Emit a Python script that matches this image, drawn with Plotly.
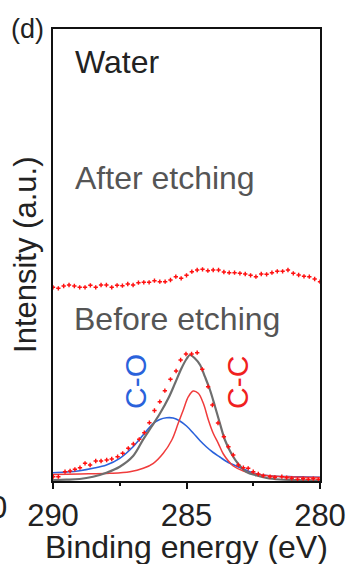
import plotly.graph_objects as go

# ---------------- data ----------------
# After etching: measured points, 0.2 eV step from 290 to 280 eV
after_E = [round(290 - 0.2 * i, 1) for i in range(51)]
after_I = [193.7, 192.7, 195, 196, 195, 193.7, 193.7, 195.7, 193.7, 196,
           196, 193.7, 195.7, 195.3, 197, 196, 198.3, 198.7, 198.7, 200.3,
           199.3, 199.3, 201, 204.3, 202.7, 205.7, 209.3, 211, 211.7, 210.3,
           211, 211, 209, 208.3, 208.3, 207.7, 207, 205.7, 204.3, 207,
           206.7, 208.3, 209.7, 209.7, 211, 207.7, 206, 204.7, 204.3, 202,
           199.3]

# Before etching: measured points
before_E = [289.99, 289.80, 289.55, 289.36, 289.18, 288.99, 288.80, 288.61, 288.40, 288.20,
            287.99, 287.80, 287.58, 287.39, 287.18, 286.99, 286.77, 286.58, 286.39, 286.20,
            286.00, 285.81, 285.60, 285.39, 285.22, 285.02, 284.81, 284.60, 284.41, 284.19,
            284.03, 283.82, 283.60, 283.43, 283.25, 283.06, 282.87, 282.69, 282.50, 282.31,
            282.12, 281.87, 281.69, 281.43, 281.25, 281.06, 280.84, 280.63, 280.44, 280.25,
            280.06]
before_I = [4.3, 4.3, 9.3, 10, 11.7, 13.3, 17.7, 16, 20, 20,
            21, 22, 24.3, 27.7, 32.7, 37, 41.7, 48.3, 58.3, 70.5,
            79.3, 90.3, 101.7, 110, 121, 127, 127, 128.3, 111.7, 94.3,
            76, 58, 44.3, 34.3, 26, 16, 13.3, 12.7, 9.3, 7,
            5.3, 4.3, 3.7, 4.3, 3.3, 2.7, 1.7, 2.3, 1.7, 2.3,
            1.7]

# Fitted envelope (gray)
fit_E = [290.0, 289.5, 289.0, 288.5, 288.0, 287.5, 287.0, 286.62, 286.31, 285.99,
         285.68, 285.43, 285.2, 285.0, 284.87, 284.7, 284.49, 284.31, 284.12, 283.93,
         283.75, 283.56, 283.31, 283.06, 282.75, 282.37, 282.0, 281.5, 281.0, 280.5, 280.0]
fit_I = [1, 1.3, 2, 4.3, 8.3, 14.3, 25, 41.7, 54.3, 67.7,
         82.7, 97.7, 112, 122, 126, 123, 116, 104.3, 91, 74.3,
         57.7, 41, 27, 17, 9, 5.5, 3, 1.5, 1, 0.7, 0.5]

# C-C component (red line)
cc_E = [290.0, 288.99, 287.87, 287.12, 286.62, 286.24, 285.87, 285.55, 285.31, 285.12,
        284.93, 284.75, 284.56, 284.37, 284.18, 284.0, 283.81, 283.62, 283.43, 283.25,
        282.87, 282.5, 282.0, 281.5, 281.0, 280.0]
cc_I = [6.5, 7, 7.7, 9.3, 12.7, 17.7, 27.7, 41, 57.7, 71,
        84.3, 90, 87.7, 77.7, 61, 47.7, 37.7, 27, 20, 15,
        10, 7.5, 5.5, 4.5, 4, 3.5]

# C-O component (blue line)
co_E = [290.0, 289.5, 289.0, 288.5, 288.0, 287.5, 287.0, 286.5, 286.25, 286.0,
        285.75, 285.5, 285.25, 285.0, 284.75, 284.5, 284.25, 284.0, 283.75, 283.5,
        283.0, 282.5, 282.0, 281.5, 281.0, 280.5, 280.0]
co_I = [8.3, 9, 10.3, 12.7, 16, 22.7, 34.3, 50, 57.5, 61.5,
        63.2, 63, 60, 55, 48, 40.5, 34, 28.5, 24, 19.5,
        13.5, 8, 5.5, 4.5, 4.3, 4, 3.7]

x_ticks = [290, 285, 280]
x_minor = [287.5, 282.5]

FONT = "Liberation Sans, Arial, sans-serif"

fig = go.Figure()
fig.add_trace(go.Scatter(x=co_E, y=co_I, mode="lines", line=dict(color="#2a62db", width=1.6, shape="spline"),
                         showlegend=False, hoverinfo="skip"))
fig.add_trace(go.Scatter(x=cc_E, y=cc_I, mode="lines", line=dict(color="#f03c3c", width=1.5, shape="spline"),
                         showlegend=False, hoverinfo="skip"))
fig.add_trace(go.Scatter(x=fit_E, y=fit_I, mode="lines", line=dict(color="#6e6e6e", width=2.2, shape="spline"),
                         showlegend=False, hoverinfo="skip"))
fig.add_trace(go.Scatter(x=before_E, y=before_I, mode="markers",
                         marker=dict(color="#ff1010", size=3.6, symbol="cross", line=dict(width=0)),
                         showlegend=False, hoverinfo="skip"))
fig.add_trace(go.Scatter(x=after_E, y=after_I, mode="markers",
                         marker=dict(color="#ff1010", size=3.6, symbol="cross", line=dict(width=0)),
                         showlegend=False, hoverinfo="skip"))

ann = []
ann.append(dict(text="Water", x=289.25, y=419.5, xref="x", yref="y", xanchor="left", yanchor="middle",
                showarrow=False, font=dict(size=32, color="#222222", family=FONT)))
ann.append(dict(text="After etching", x=289.26, y=303, xref="x", yref="y", xanchor="left", yanchor="middle",
                showarrow=False, font=dict(size=32, color="#555555", family=FONT)))
ann.append(dict(text="Before etching", x=289.29, y=162.5, xref="x", yref="y", xanchor="left", yanchor="middle",
                showarrow=False, font=dict(size=32, color="#555555", family=FONT)))
ann.append(dict(text="C-O", x=286.93, y=100, xref="x", yref="y", xanchor="center", yanchor="middle",
                textangle=-90, showarrow=False, font=dict(size=30, color="#2a62db", family=FONT)))
ann.append(dict(text="C-C", x=283.11, y=99, xref="x", yref="y", xanchor="center", yanchor="middle",
                textangle=-90, showarrow=False, font=dict(size=30, color="#f02020", family=FONT)))
ann.append(dict(text="(d)", x=-0.094, y=1.0, xref="paper", yref="paper", xanchor="center", yanchor="middle",
                showarrow=False, font=dict(size=27, color="#222222", family=FONT)))
ann.append(dict(text="0", x=-0.165, y=-0.058, xref="paper", yref="paper", xanchor="right", yanchor="middle",
                showarrow=False, font=dict(size=31, color="#222222", family=FONT)))
# axis titles
ann.append(dict(text="Binding energy (eV)", x=0.5, y=-0.146, xref="paper", yref="paper",
                xanchor="center", yanchor="middle", showarrow=False,
                font=dict(size=32, color="#222222", family=FONT)))
ann.append(dict(text="Intensity (a.u.)", x=-0.105, y=0.5, xref="paper", yref="paper",
                xanchor="center", yanchor="middle", textangle=-90, showarrow=False,
                font=dict(size=31, color="#222222", family=FONT)))

fig.update_layout(
    width=351, height=564,
    margin=dict(l=53, r=31, t=29, b=83, autoexpand=False),
    paper_bgcolor="white", plot_bgcolor="white",
    annotations=ann,
    font=dict(family=FONT, color="#222222"),
    xaxis=dict(range=[290, 280], tickvals=x_ticks, ticktext=[str(v) for v in x_ticks],
               ticks="outside", ticklen=6, tickwidth=1.5, tickcolor="#111111",
               minor=dict(tickvals=x_minor, ticks="outside", ticklen=3, tickwidth=1.5, tickcolor="#111111"),
               showline=True, linecolor="#111111", linewidth=2, mirror=True,
               showgrid=False, zeroline=False, automargin=False,
               tickfont=dict(size=31, color="#222222", family=FONT)),
    yaxis=dict(range=[0, 452], showticklabels=False, ticks="",
               showline=True, linecolor="#111111", linewidth=2, mirror=True,
               showgrid=False, zeroline=False, automargin=False),
)

fig.write_html("out.html")
